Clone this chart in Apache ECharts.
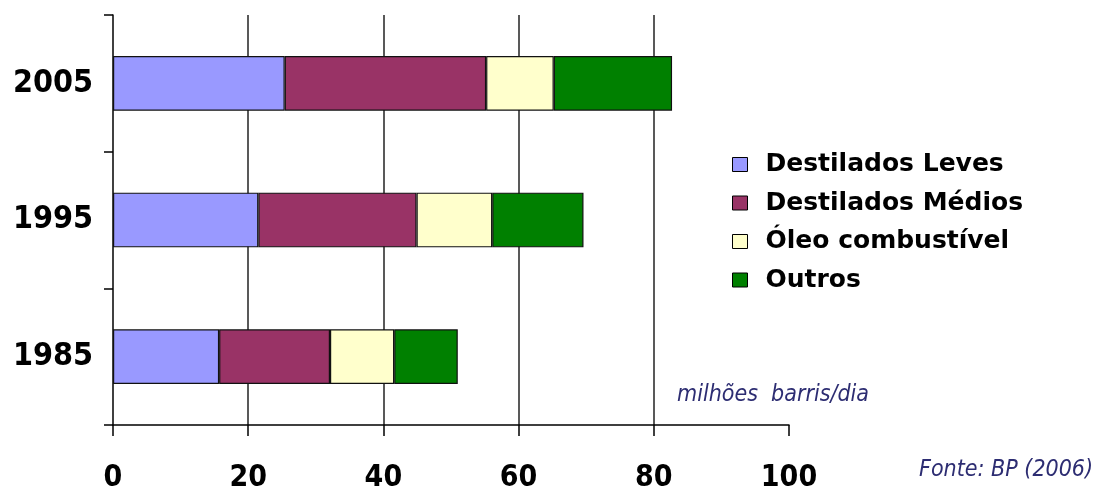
<!DOCTYPE html>
<html>
<head>
<meta charset="utf-8">
<script src="https://cdn.jsdelivr.net/npm/echarts@6/dist/echarts.min.js"></script>
<style>
html,body{margin:0;padding:0;background:#fff;}
#c{width:1103px;height:493px;}
</style>
</head>
<body>
<div id="c"></div>
<script>
const categories = ['1985', '1995', '2005'];
const seriesNames = ['Destilados Leves', 'Destilados Médios', 'Óleo combustível', 'Outros'];
const destiladosLeves = [15.7, 21.5, 25.4];
const destiladosMedios = [16.4, 23.4, 29.8];
const oleoCombustivel = [9.5, 11.2, 10.0];
const outros = [9.4, 13.5, 17.5];
const xTicks = [0, 20, 40, 60, 80, 100];
const unitLabel = 'milhões  barris/dia';
const sourceLabel = 'Fonte: BP (2006)';

const colors = ['#9999FF', '#993366', '#FFFFCC', '#008000'];
const values = [destiladosLeves, destiladosMedios, oleoCombustivel, outros];
const condBold = "'DejaVu Sans Condensed', 'DejaVu Sans', sans-serif";

const chart = echarts.init(document.getElementById('c'), null, {renderer: 'canvas'});
chart.setOption({
  backgroundColor: '#ffffff',
  animation: false,
  grid: {left: 113, right: 314, top: 15, bottom: 66, containLabel: false},
  xAxis: {
    type: 'value',
    min: xTicks[0],
    max: xTicks[xTicks.length - 1],
    interval: 20,
    axisLine: {show: true, onZero: false, lineStyle: {color: '#000', width: 1.5}},
    axisTick: {show: true, length: 11, lineStyle: {color: '#000', width: 1.5}},
    axisLabel: {
      margin: 38,
      color: '#000',
      fontSize: 30,
      fontWeight: 'bold',
      fontFamily: condBold
    },
    splitLine: {show: true, showMinLine: false, showMaxLine: false, lineStyle: {color: '#222', width: 1.5}}
  },
  yAxis: {
    type: 'category',
    data: categories,
    axisLine: {show: true, lineStyle: {color: '#000', width: 1.5}},
    axisTick: {show: true, length: 9, lineStyle: {color: '#000', width: 1.5}},
    axisLabel: {
      margin: 20,
      color: '#000',
      fontSize: 32,
      fontWeight: 'bold',
      fontFamily: condBold
    },
    splitLine: {show: false}
  },
  legend: {
    orient: 'vertical',
    left: 732,
    top: 152,
    padding: 0,
    itemWidth: 15,
    itemHeight: 14,
    itemGap: 13.5,
    icon: 'rect',
    data: seriesNames,
    itemStyle: {borderColor: '#000', borderWidth: 1},
    textStyle: {
      color: '#000',
      fontSize: 25,
      lineHeight: 25,
      fontWeight: 'bold',
      fontFamily: "'DejaVu Sans', sans-serif",
      padding: [0, 0, 0, 13]
    }
  },
  series: seriesNames.map((name, i) => ({
    name: name,
    type: 'bar',
    stack: 'total',
    barWidth: '40%',
    data: values[i],
    itemStyle: {color: colors[i], borderColor: '#111', borderWidth: 1.2}
  })),
  graphic: [
    {
      type: 'text', left: 677, top: 384,
      style: {text: unitLabel, fill: '#2d2d72', font: "italic 23px 'DejaVu Sans Condensed', 'DejaVu Sans', sans-serif"}
    },
    {
      type: 'text', left: 919, top: 459,
      style: {text: sourceLabel, fill: '#2d2d72', font: "italic 23px 'DejaVu Sans Condensed', 'DejaVu Sans', sans-serif"}
    }
  ]
});
</script>
</body>
</html>
